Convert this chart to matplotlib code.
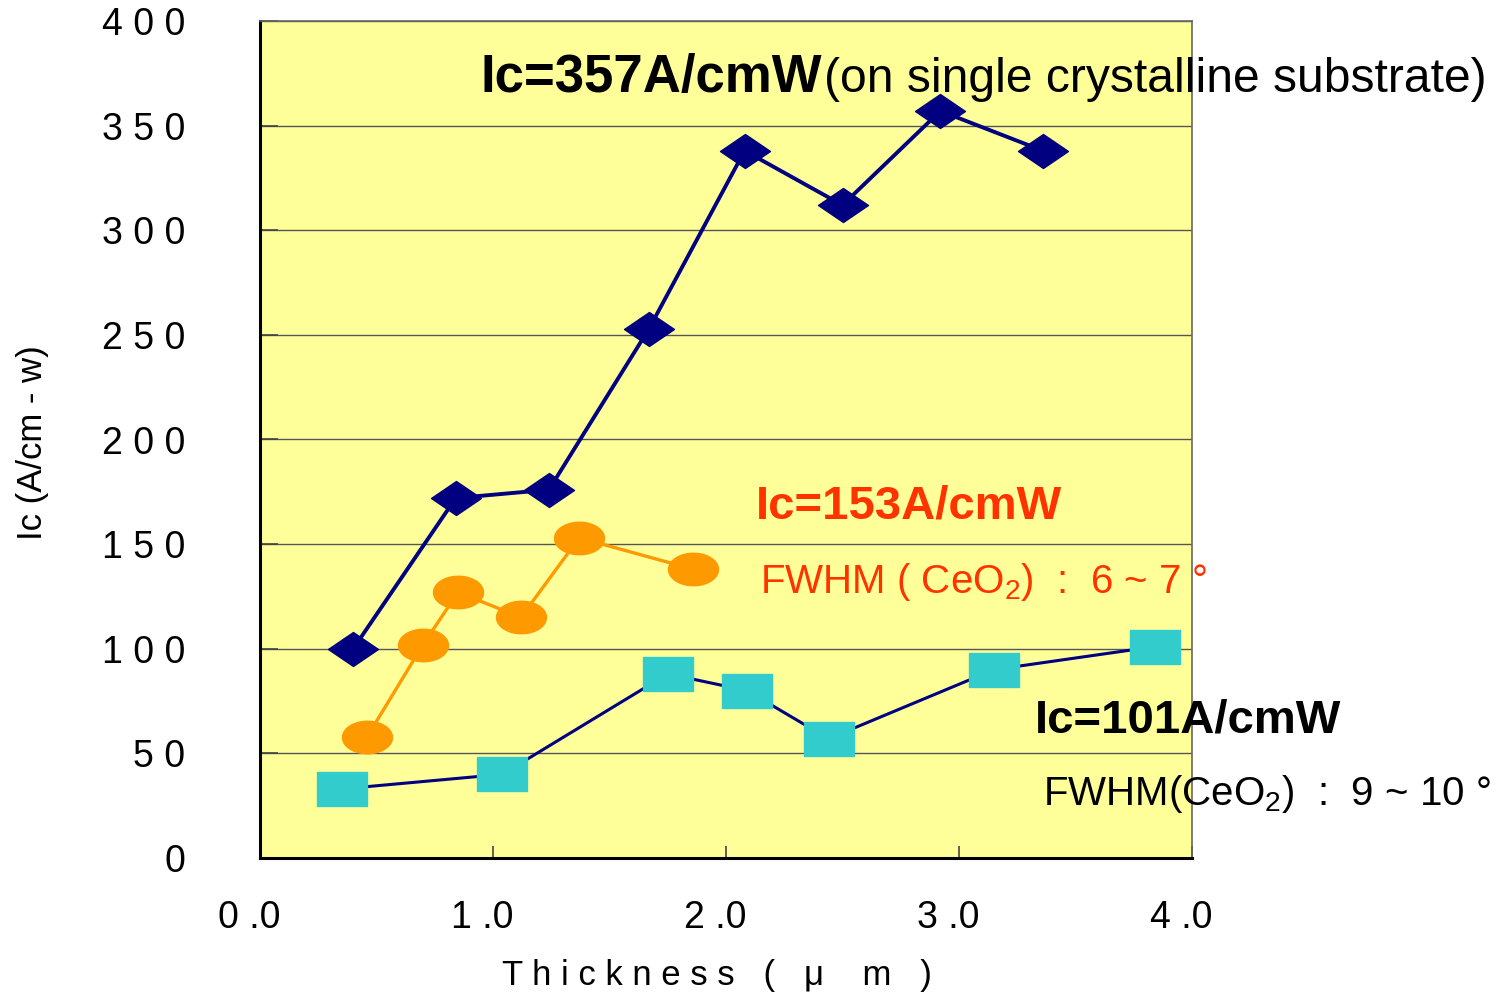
import matplotlib
matplotlib.use('Agg')
import matplotlib.pyplot as plt
import matplotlib.transforms as mtransforms
import numpy as np
from matplotlib.path import Path

plt.rcParams['font.family'] = ['Liberation Sans', 'DejaVu Sans']
plt.rcParams['mathtext.fontset'] = 'custom'
plt.rcParams['mathtext.rm'] = 'Liberation Sans'
plt.rcParams['mathtext.it'] = 'Liberation Sans:italic'
plt.rcParams['mathtext.bf'] = 'Liberation Sans:bold'

W, H = 1500, 996

# --- data: thickness (um) vs Ic (A/cm-w) ---
single_x = [0.40, 0.84, 1.24, 1.67, 2.08, 2.50, 2.92, 3.36]
single_y = [100, 172, 176, 253, 338, 312, 357, 338]

orange_x = [0.46, 0.70, 0.85, 1.12, 1.37, 1.86]
orange_y = [58, 102, 127, 115, 153, 138]

cyan_x = [0.35, 1.04, 1.75, 2.09, 2.44, 3.15, 3.84]
cyan_y = [33, 40, 88, 80, 57, 90, 101]

xticks = [0, 1, 2, 3, 4]
xtick_labels = ['0 .0', '1 .0', '2 .0', '3 .0', '4 .0']
yticks = [0, 50, 100, 150, 200, 250, 300, 350, 400]
ytick_labels = ['0', '5 0', '1 0 0', '1 5 0', '2 0 0', '2 5 0', '3 0 0', '3 5 0', '4 0 0']

# wide markers (Excel style, stretched horizontally)
diamond = Path([(-1, 0), (0, 0.68), (1, 0), (0, -0.68), (-1, 0)],
               [Path.MOVETO, Path.LINETO, Path.LINETO, Path.LINETO, Path.CLOSEPOLY])
t = np.linspace(0, 2 * np.pi, 60)
ellipse = Path(np.column_stack([np.cos(t), 0.65 * np.sin(t)]))
rect = Path([(-1, -0.67), (1, -0.67), (1, 0.67), (-1, 0.67), (-1, -0.67)],
            [Path.MOVETO, Path.LINETO, Path.LINETO, Path.LINETO, Path.CLOSEPOLY])


def px(x, y):
    return x / W, 1 - y / H


fig = plt.figure(figsize=(15, 9.96), dpi=100)
ax = fig.add_axes([260 / W, 1 - 858 / H, 932 / W, 837 / H])
ax.set_facecolor('#FFFF99')

ax.set_xlim(0, 4)
ax.set_ylim(0, 400)
ax.set_yticks(yticks)
ax.set_yticklabels(ytick_labels)
ax.set_xticks(xticks)
ax.set_xticklabels(xtick_labels)
ax.tick_params(axis='y', direction='in', length=13, width=1.2, color='#444444',
               labelsize=27, pad=54)
ax.tick_params(axis='x', direction='in', length=9, width=1.2, color='#444444',
               labelsize=27, pad=30)
ax.grid(axis='y', color='#555555', linewidth=1.0)
ax.set_axisbelow(True)

# x labels sit a little left of their ticks
shift = mtransforms.ScaledTranslation(-11 / 100, 0, fig.dpi_scale_trans)
for lbl in ax.get_xticklabels():
    lbl.set_transform(lbl.get_transform() + shift)

for side in ['left', 'bottom']:
    ax.spines[side].set_color('black')
    ax.spines[side].set_linewidth(2.2)
for side in ['top', 'right']:
    ax.spines[side].set_color('#666666')
    ax.spines[side].set_linewidth(1.2)

ax.plot(cyan_x, cyan_y, color='#000080', linewidth=2.2, marker=rect,
        markersize=36, markerfacecolor='#33CCCC', markeredgecolor='#33CCCC',
        zorder=3, clip_on=False)
ax.plot(orange_x, orange_y, color='#FF9900', linewidth=2.4, marker=ellipse,
        markersize=36, markerfacecolor='#FF9900', markeredgecolor='#FF9900',
        zorder=4, clip_on=False)
ax.plot(single_x, single_y, color='#000080', linewidth=2.8, marker=diamond,
        markersize=36, markerfacecolor='#000080', markeredgecolor='#000080',
        zorder=5, clip_on=False)

fig.text(*px(717, 975), 'T h i c k n e s s   (   μ    m   )', fontsize=25,
         ha='center', va='center')
fig.text(*px(33, 443), 'Ic (A/cm - w)', fontsize=25, rotation=90,
         ha='center', va='center')

# annotations
fig.text(*px(480, 92), 'Ic=357A/cmW', fontsize=38, fontweight='bold',
         ha='left', va='baseline')
fig.text(*px(824, 92), '(on single crystalline substrate)', fontsize=34.6,
         ha='left', va='baseline')

fig.text(*px(756, 518), 'Ic=153A/cmW', fontsize=34, fontweight='bold',
         color='#FF3300', ha='left', va='baseline')
fig.text(*px(760, 593), 'FWHM ( CeO$_2$)  :  6 ~ 7 °', fontsize=29,
         color='#FF3300', ha='left', va='baseline')

fig.text(*px(1035, 732), 'Ic=101A/cmW', fontsize=34, fontweight='bold',
         ha='left', va='baseline')
fig.text(*px(1043, 805), 'FWHM(CeO$_2$)  :  9 ~ 10 °', fontsize=29,
         ha='left', va='baseline')

fig.savefig('out.png', dpi=100, facecolor='white')
